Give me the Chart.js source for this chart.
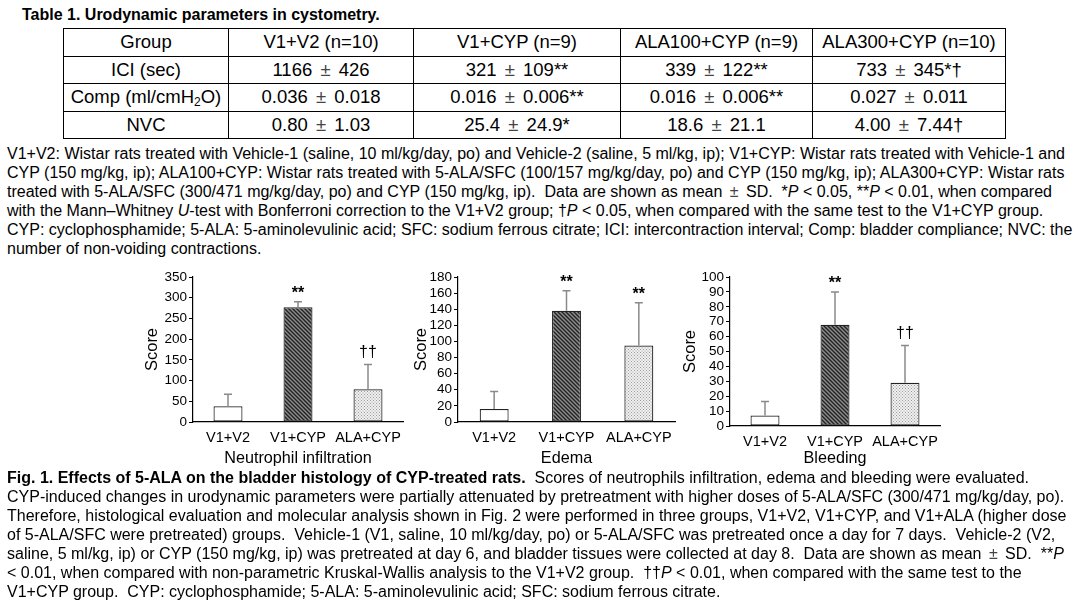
<!DOCTYPE html>
<html>
<head>
<meta charset="utf-8">
<script src="https://cdn.jsdelivr.net/npm/chart.js@4.4.0/dist/chart.umd.min.js"></script>
<style>
  body { margin: 0; background: #fff; font-family: "Liberation Sans", Arial, sans-serif; color: #000; }
  #page { position: relative; width: 1080px; height: 610px; overflow: hidden; }
  .txt { position: absolute; white-space: nowrap; font-size: 16px; line-height: 18.9px; }
  #tbl { position: absolute; left: 63px; top: 28px; border-collapse: collapse; table-layout: fixed; font-size: 18.5px; }
  #tbl td { border: 1.5px solid #000; text-align: center; height: 26.5px; padding: 0; line-height: 26.5px; white-space: nowrap; overflow: hidden; }
  #tbl sub { font-size: 12px; line-height: 0; vertical-align: -3px; }
  .pm { color: #444; margin: 0 3px; font-weight: 300; }
  .box { position: absolute; }
</style>
</head>
<body>
<div id="page">
  <div class="txt" style="left:22px; top:6px; font-weight:bold;">Table 1. Urodynamic parameters in cystometry.</div>
  <table id="tbl"></table>

  <div class="txt" style="left:7px; top:145px;">
    V1+V2: Wistar rats treated with Vehicle-1 (saline, 10 ml/kg/day, po) and Vehicle-2 (saline, 5 ml/kg, ip); V1+CYP: Wistar rats treated with Vehicle-1 and<br>
    CYP (150 mg/kg, ip); ALA100+CYP: Wistar rats treated with 5-ALA/SFC (100/157 mg/kg/day, po) and CYP (150 mg/kg, ip); ALA300+CYP: Wistar rats<br>
    treated with 5-ALA/SFC (300/471 mg/kg/day, po) and CYP (150 mg/kg, ip).&nbsp; Data are shown as mean <span class="pm">±</span> SD.&nbsp; *<i>P</i> &lt; 0.05, **<i>P</i> &lt; 0.01, when compared<br>
    with the Mann–Whitney <i>U</i>-test with Bonferroni correction to the V1+V2 group; †<i>P</i> &lt; 0.05, when compared with the same test to the V1+CYP group.<br>
    CYP: cyclophosphamide; 5-ALA: 5-aminolevulinic acid; SFC: sodium ferrous citrate; ICI: intercontraction interval; Comp: bladder compliance; NVC: the<br>
    number of non-voiding contractions.
  </div>

  <div class="box" style="left:130px; top:262px; width:280px; height:207px;"><canvas id="c1"></canvas></div>
  <div class="box" style="left:400px; top:262px; width:285px; height:207px;"><canvas id="c2"></canvas></div>
  <div class="box" style="left:680px; top:262px; width:270px; height:207px;"><canvas id="c3"></canvas></div>

  <div class="txt" style="left:7px; top:468px; line-height:19px;">
    <b>Fig. 1. Effects of 5-ALA on the bladder histology of CYP-treated rats.</b>&nbsp; Scores of neutrophils infiltration, edema and bleeding were evaluated.<br>
    CYP-induced changes in urodynamic parameters were partially attenuated by pretreatment with higher doses of 5-ALA/SFC (300/471 mg/kg/day, po).<br>
    Therefore, histological evaluation and molecular analysis shown in Fig. 2 were performed in three groups, V1+V2, V1+CYP, and V1+ALA (higher dose<br>
    of 5-ALA/SFC were pretreated) groups.&nbsp; Vehicle-1 (V1, saline, 10 ml/kg/day, po) or 5-ALA/SFC was pretreated once a day for 7 days.&nbsp; Vehicle-2 (V2,<br>
    saline, 5 ml/kg, ip) or CYP (150 mg/kg, ip) was pretreated at day 6, and bladder tissues were collected at day 8.&nbsp; Data are shown as mean <span class="pm">±</span> SD.&nbsp; **<i>P</i><br>
    &lt; 0.01, when compared with non-parametric Kruskal-Wallis analysis to the V1+V2 group.&nbsp; ††<i>P</i> &lt; 0.01, when compared with the same test to the<br>
    V1+CYP group.&nbsp; CYP: cyclophosphamide; 5-ALA: 5-aminolevulinic acid; SFC: sodium ferrous citrate.
  </div>
</div>

<script>
// table 1
var tableHeader = ['Group', 'V1+V2 (n=10)', 'V1+CYP (n=9)', 'ALA100+CYP (n=9)', 'ALA300+CYP (n=10)'];
var tableParams = ['ICI (sec)', 'Comp (ml/cmH<sub>2</sub>O)', 'NVC'];
var iciRow = ['1166 ± 426', '321 ± 109**', '339 ± 122**', '733 ± 345*†'];
var compRow = ['0.036 ± 0.018', '0.016 ± 0.006**', '0.016 ± 0.006**', '0.027 ± 0.011'];
var nvcRow = ['0.80 ± 1.03', '25.4 ± 24.9*', '18.6 ± 21.1', '4.00 ± 7.44†'];
var colWidths = [165, 185, 207, 192, 193];

// fig 1
var groups = ['V1+V2', 'V1+CYP', 'ALA+CYP'];
var neutrophilMean = [38, 277, 79];
var neutrophilSD = [29, 13, 60];
var neutrophilMarks = ['', '**', '††'];
var edemaMean = [16, 138, 95];
var edemaSD = [22, 25, 53];
var edemaMarks = ['', '**', '**'];
var bleedingMean = [7, 68, 29];
var bleedingSD = [9.5, 22, 25];
var bleedingMarks = ['', '**', '††'];

// build the table
var tbl = document.getElementById('tbl');
var rows = [tableHeader].concat([iciRow, compRow, nvcRow].map(function (r, i) { return [tableParams[i]].concat(r); }));
var html = '<colgroup>' + colWidths.map(function (w) { return '<col style="width:' + w + 'px">'; }).join('') + '</colgroup>';
rows.forEach(function (r) {
    html += '<tr>' + r.map(function (c) {
        return '<td>' + c.replace(' ± ', ' <span class="pm">±</span> ') + '</td>';
    }).join('') + '</tr>';
});
tbl.innerHTML = html;

// bar fills
function hatchPattern() {
    var c = document.createElement('canvas');
    c.width = 4; c.height = 4;
    var g = c.getContext('2d');
    g.fillStyle = '#8c8c8c';
    g.fillRect(0, 0, 4, 4);
    g.strokeStyle = '#222';
    g.lineWidth = 1.4;
    g.beginPath();
    g.moveTo(0, 0); g.lineTo(4, 4);
    g.moveTo(-1, 3); g.lineTo(1, 5);
    g.moveTo(3, -1); g.lineTo(5, 1);
    g.stroke();
    return g.createPattern(c, 'repeat');
}
function dotPattern() {
    var c = document.createElement('canvas');
    c.width = 3; c.height = 3;
    var g = c.getContext('2d');
    g.fillStyle = '#f0f0f0';
    g.fillRect(0, 0, 3, 3);
    g.fillStyle = '#9c9c9c';
    g.fillRect(0, 0, 1, 1);
    g.fillRect(1.5, 1.5, 1, 1);
    return g.createPattern(c, 'repeat');
}
var fills = ['#ffffff', hatchPattern(), dotPattern()];

// upper error bars and significance marks
function errorBars(sds, marks) {
    return {
        id: 'errorBars',
        afterDatasetsDraw: function (chart) {
            var ctx = chart.ctx;
            var y = chart.scales.y;
            var meta = chart.getDatasetMeta(0);
            var means = chart.data.datasets[0].data;
            ctx.save();
            meta.data.forEach(function (bar, i) {
                var top = y.getPixelForValue(means[i] + sds[i]);
                var base = y.getPixelForValue(means[i]);
                ctx.strokeStyle = '#8a8a8a';
                ctx.lineWidth = 1.5;
                ctx.beginPath();
                ctx.moveTo(bar.x, base);
                ctx.lineTo(bar.x, top);
                ctx.moveTo(bar.x - 4, top);
                ctx.lineTo(bar.x + 4, top);
                ctx.stroke();
                if (marks[i]) {
                    ctx.fillStyle = '#000';
                    ctx.textAlign = 'center';
                    ctx.textBaseline = 'middle';
                    if (marks[i] === '**') {
                        ctx.font = 'bold 16px "Liberation Sans", Arial';
                        ctx.fillText(marks[i], bar.x, top - 8);
                    } else {
                        ctx.font = '16px "Liberation Sans", Arial';
                        ctx.fillText(marks[i], bar.x, top - 12);
                    }
                }
            });
            ctx.restore();
        }
    };
}

function makeChart(id, xTitle, means, sds, marks, yMax, yStep, geo) {
    return new Chart(document.getElementById(id), {
        type: 'bar',
        data: {
            labels: groups,
            datasets: [{
                data: means,
                backgroundColor: fills,
                borderColor: '#222',
                borderWidth: 1.2,
                borderSkipped: false,
                categoryPercentage: 1,
                barPercentage: geo.barPct
            }]
        },
        options: {
            responsive: true,
            maintainAspectRatio: false,
            animation: false,
            layout: { padding: { top: geo.padTop, right: geo.padRight, left: 0, bottom: 0 } },
            plugins: { legend: { display: false }, tooltip: { enabled: false } },
            scales: {
                x: {
                    grid: { display: false, drawTicks: false },
                    border: { display: true, color: '#000', width: 1.2 },
                    ticks: { color: '#000', font: { size: 14.5 }, padding: 7, maxRotation: 0, autoSkip: false },
                    title: { display: true, text: xTitle, color: '#000', font: { size: 16.2 }, padding: { top: 0, bottom: 0.5 } },
                    afterFit: function (s) { s.height = geo.xHeight; }
                },
                y: {
                    min: 0,
                    max: yMax,
                    ticks: { stepSize: yStep, color: '#000', font: { size: 13.5 }, padding: 2, autoSkip: false },
                    grid: { display: true, drawOnChartArea: false, tickLength: 4, color: '#000' },
                    border: { display: true, color: '#000', width: 1.2 },
                    title: { display: true, text: 'Score', color: '#000', font: { size: 16.5 }, padding: { top: geo.titlePad, bottom: 0 } },
                    afterFit: function (s) { s.width = geo.yWidth; }
                }
            }
        },
        plugins: [errorBars(sds, marks)]
    });
}

Chart.defaults.font.family = '"Liberation Sans", Arial, sans-serif';

makeChart('c1', 'Neutrophil infiltration', neutrophilMean, neutrophilSD, neutrophilMarks, 350, 50,
    { yWidth: 63, xHeight: 47, padTop: 15, padRight: 7, barPct: 0.414, titlePad: 13 });
makeChart('c2', 'Edema', edemaMean, edemaSD, edemaMarks, 180, 20,
    { yWidth: 58, xHeight: 47, padTop: 15, padRight: 10, barPct: 0.4, titlePad: 12 });
makeChart('c3', 'Bleeding', bleedingMean, bleedingSD, bleedingMarks, 100, 10,
    { yWidth: 50, xHeight: 43, padTop: 15, padRight: 10, barPct: 0.414, titlePad: 1 });
</script>
</body>
</html>
